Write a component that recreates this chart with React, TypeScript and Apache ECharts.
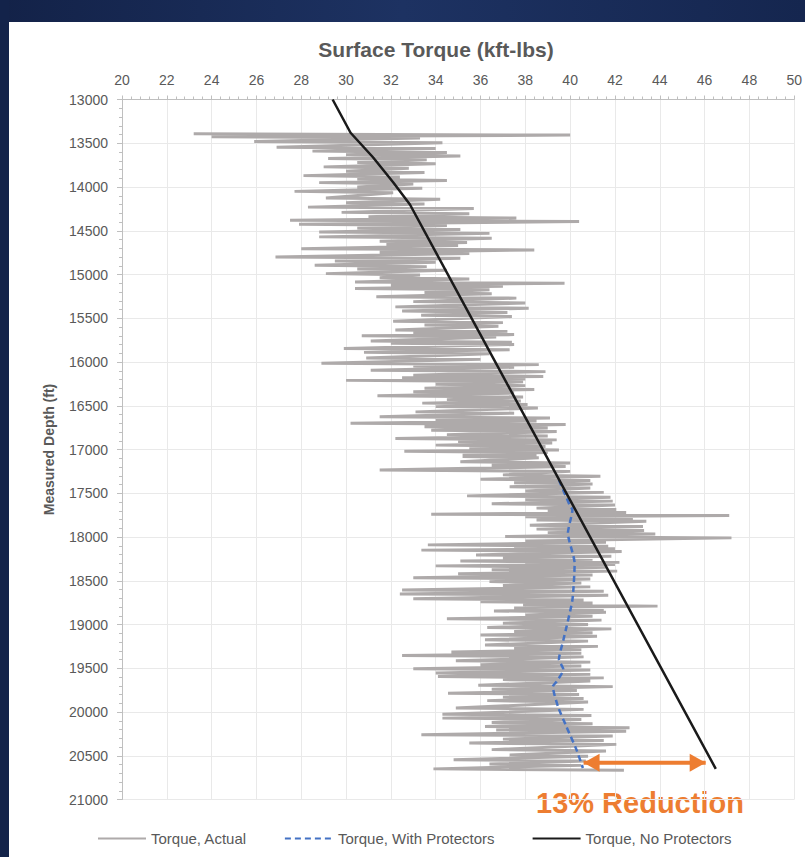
import React, { useEffect, useRef } from "react";
import * as echarts from "echarts";

// ---- Data ----
const xTicks = [20, 22, 24, 26, 28, 30, 32, 34, 36, 38, 40, 42, 44, 46, 48, 50];
const yTicks = [13000, 13500, 14000, 14500, 15000, 15500, 16000, 16500, 17000, 17500, 18000, 18500, 19000, 19500, 20000, 20500, 21000];

// Torque, Actual: each excursion read as depth with its left and right extremes
const actualDepth = [
  13392, 13425, 13480, 13545, 13590, 13630, 13675, 13720, 13770, 13820, 13870, 13910, 13950, 14000, 14050, 14125,
  14180, 14230, 14290, 14340, 14380, 14425, 14470, 14515, 14570, 14620, 14655, 14705, 14745, 14800, 14845, 14895,
  14937, 14990, 15037, 15085, 15120, 15160, 15205, 15255, 15310, 15370, 15418, 15465, 15535, 15577, 15635, 15672,
  15700, 15760, 15785, 15845, 15890, 15955, 16015, 16045, 16095, 16150, 16180, 16210, 16255, 16300, 16340, 16385,
  16430, 16470, 16510, 16570, 16625, 16660, 16700, 16740, 16780, 16830, 16875, 16910, 16950, 16990, 17020, 17050,
  17080, 17140, 17180, 17235, 17290, 17340, 17380, 17425, 17475, 17530, 17575, 17620, 17670, 17705, 17740, 17770,
  17805, 17865, 17910, 17950, 17995, 18045, 18090, 18120, 18150, 18205, 18240, 18275, 18300, 18330, 18375, 18420,
  18465, 18510, 18555, 18605, 18650, 18705, 18740, 18775, 18810, 18845, 18890, 18935, 18985, 19035, 19080, 19120,
  19175, 19235, 19275, 19315, 19355, 19415, 19460, 19505, 19555, 19595, 19630, 19695, 19740, 19785, 19830, 19870,
  19955, 20025, 20070, 20120, 20165, 20205, 20260, 20310, 20355, 20430, 20490, 20545, 20595, 20650,
];
const actualLeft = [
  23.2, 24.0, 25.9, 26.9, 28.5, 30.0, 29.2, 30.5, 29.0, 30.0, 28.1, 30.5, 28.8, 30.5, 27.7, 29.1,
  30.0, 28.3, 29.8, 31.0, 27.5, 27.9, 30.5, 28.8, 28.8, 31.5, 31.8, 28.0, 31.5, 26.85, 29.5, 28.6,
  30.5, 29.1, 31.5, 30.4, 32.0, 30.4, 33.5, 31.35, 33.0, 32.2, 32.5, 33.35, 32.1, 33.5, 32.2, 33.0,
  30.7, 31.1, 32.0, 29.9, 30.8, 30.9, 28.9, 33.0, 31.1, 33.0, 32.5, 30.0, 34.0, 33.5, 33.0, 31.4,
  34.5, 33.4, 34.0, 33.1, 31.5, 34.0, 30.2, 33.5, 33.8, 34.5, 32.2, 35.0, 34.0, 35.5, 32.6, 35.2,
  35.2, 35.1, 36.5, 31.5, 37.0, 36.0, 37.5, 37.3, 38.0, 35.4, 38.0, 36.5, 38.5, 39.0, 33.8, 38.0,
  38.5, 38.2, 38.5, 39.0, 37.1, 38.0, 33.65, 37.5, 33.36, 35.8, 37.0, 35.1, 38.0, 34.0, 36.5, 35.0,
  33.0, 36.4, 37.0, 32.5, 32.4, 33.0, 36.0, 37.9, 37.5, 36.6, 38.0, 34.5, 37.0, 36.3, 37.5, 36.0,
  36.2, 36.2, 37.5, 34.7, 32.5, 34.9, 36.0, 33.0, 34.0, 34.1, 37.0, 35.9, 36.5, 34.55, 37.0, 36.3,
  34.9, 34.3, 34.3, 36.5, 36.2, 36.7, 33.36, 37.0, 35.5, 36.5, 37.3, 34.8, 36.4, 33.9,
];
const actualRight = [
  40.0, 33.3, 34.3, 34.0, 34.5, 35.1, 33.6, 34.0, 32.8, 33.5, 32.4, 34.5, 33.0, 33.4, 32.1, 34.2,
  33.5, 35.7, 35.5, 37.6, 40.4, 34.5, 35.1, 36.4, 36.5, 35.4, 35.0, 38.4, 35.5, 35.1, 34.0, 33.6,
  34.5, 33.3, 35.5, 39.75, 37.0, 36.4, 36.5, 37.6, 38.0, 38.15, 37.2, 37.4, 37.0, 36.8, 37.2, 37.5,
  36.7, 37.4, 37.5, 37.3, 36.4, 36.0, 38.6, 37.5, 38.9, 38.8, 38.0, 37.9, 38.0, 38.4, 37.5, 37.9,
  37.8, 38.1, 38.56, 37.5, 39.1, 38.5, 39.8, 39.0, 39.4, 39.0, 39.4, 39.2, 38.9, 39.5, 39.0, 38.5,
  38.6, 40.0, 39.8, 40.0, 41.35, 40.9, 41.0, 40.9, 41.5, 41.8, 41.9, 42.0, 42.06, 42.5, 47.1, 42.8,
  43.4, 43.25, 43.3, 43.8, 47.2, 41.6, 41.7, 42.0, 42.3, 41.84, 41.0, 42.2, 42.0, 41.6, 42.1, 41.0,
  40.9, 40.5, 40.9, 41.5, 41.7, 40.6, 41.0, 43.9, 41.5, 41.6, 41.0, 41.4, 40.8, 41.84, 41.0, 41.2,
  40.8, 41.24, 40.5, 40.5, 40.6, 40.9, 40.5, 40.9, 40.9, 41.5, 40.9, 41.9, 40.3, 40.4, 40.6, 40.8,
  40.6, 40.95, 40.5, 41.0, 42.65, 42.5, 41.9, 41.5, 42.06, 41.6, 40.8, 40.7, 40.5, 42.4,
];

// Torque, With Protectors
const withDepth = [17350, 17635, 17690, 17955, 18300, 18720, 19175, 19400, 19515, 19650, 19710, 19940, 20165, 20430, 20640];
const withTorque = [39.5, 39.98, 40.1, 39.9, 40.2, 40.1, 39.7, 39.5, 39.7, 39.4, 39.23, 39.46, 39.83, 40.28, 40.57];

// Torque, No Protectors
const noDepth = [13000, 13380, 13660, 13945, 14200, 20650];
const noTorque = [29.4, 30.2, 31.2, 32.1, 32.85, 46.5];

// Reduction arrow
const arrowDepth = 20580;
const arrowFrom = 40.6;
const arrowTo = 46.05;
const reductionText = "13% Reduction";

const FONT = '"Liberation Sans", Arial, sans-serif';
const TXT = "#595959";
const ORANGE = "#ed7d31";

export default function App() {
  const ref = useRef<HTMLDivElement>(null);

  useEffect(() => {
    document.body.style.margin = "0";
    if (!ref.current) return;
    const chart = echarts.init(ref.current, undefined, { renderer: "svg" });

    const actualData: number[][] = [];
    actualDepth.forEach((d, i) => {
      actualData.push([actualLeft[i], d]);
      actualData.push([actualRight[i], d + 15]);
    });
    const withData = withDepth.map((d, i) => [withTorque[i], d]);
    const noData = noDepth.map((d, i) => [noTorque[i], d]);

    chart.setOption({
      animation: false,
      backgroundColor: "#ffffff",
      textStyle: { fontFamily: FONT },
      title: {
        text: "Surface Torque (kft-lbs)",
        left: 431,
        top: 34,
        textAlign: "center",
        textStyle: { fontFamily: FONT, fontSize: 21, fontWeight: "bold", color: TXT },
      },
      graphic: [
        {
          type: "rect",
          shape: { x: 0, y: 0, width: 805, height: 22 },
          style: {
            fill: new echarts.graphic.LinearGradient(0, 0, 1, 0, [
              { offset: 0, color: "#132248" },
              { offset: 0.5, color: "#1d3262" },
              { offset: 1, color: "#15264f" },
            ]),
          },
          silent: true,
        },
        {
          type: "rect",
          shape: { x: 0, y: 0, width: 9, height: 857 },
          style: { fill: "#13234a" },
          silent: true,
        },
        {
          type: "text",
          x: 536,
          y: 803,
          style: {
            text: reductionText,
            fill: ORANGE,
            font: `bold 29px ${FONT}`,
            textAlign: "left",
            textVerticalAlign: "middle",
          },
          silent: true,
        },
      ],
      legend: {
        left: 97,
        top: 831,
        padding: 0,
        itemWidth: 48,
        itemHeight: 14,
        itemGap: 37,
        itemStyle: { opacity: 0 },
        textStyle: { fontFamily: FONT, fontSize: 15, color: TXT },
        data: ["Torque, Actual", "Torque, With Protectors", "Torque, No Protectors"],
      },
      grid: { left: 122, right: 10.5, top: 99.5, bottom: 57.5 },
      xAxis: {
        type: "value",
        position: "top",
        min: xTicks[0],
        max: xTicks[xTicks.length - 1],
        interval: 2,
        axisLine: { show: true, lineStyle: { color: "#bfbfbf", width: 1 } },
        axisTick: { show: true, length: 4, lineStyle: { color: "#bfbfbf" } },
        minorTick: { show: true, splitNumber: 5, length: 3, lineStyle: { color: "#bfbfbf" } },
        axisLabel: { fontFamily: FONT, fontSize: 14, color: TXT, margin: 13 },
        splitLine: { show: true, lineStyle: { color: "#e9e9e9", width: 1 } },
      },
      yAxis: {
        type: "value",
        inverse: true,
        min: yTicks[0],
        max: yTicks[yTicks.length - 1],
        interval: 500,
        name: "Measured Depth (ft)",
        nameLocation: "middle",
        nameGap: 66,
        nameTextStyle: { fontFamily: FONT, fontSize: 14, fontWeight: "bold", color: TXT },
        axisLine: { show: true, lineStyle: { color: "#bfbfbf", width: 1 } },
        axisTick: { show: true, length: 5, lineStyle: { color: "#bfbfbf" } },
        minorTick: { show: true, splitNumber: 5, length: 3, lineStyle: { color: "#bfbfbf" } },
        axisLabel: {
          fontFamily: FONT,
          fontSize: 14,
          color: TXT,
          margin: 14,
          formatter: (v: number) => String(v),
        },
        splitLine: { show: true, lineStyle: { color: "#e9e9e9", width: 1 } },
      },
      series: [
        {
          name: "Torque, Actual",
          type: "line",
          data: actualData,
          symbol: "none",
          showSymbol: false,
          lineStyle: { color: "#aeaaaa", width: 3 },
          itemStyle: { color: "#aeaaaa" },
          z: 2,
        },
        {
          name: "Torque, With Protectors",
          type: "line",
          data: withData,
          symbol: "none",
          showSymbol: false,
          smooth: 0.2,
          lineStyle: { color: "#4472c4", width: 2.5, type: [6, 4] },
          itemStyle: { color: "#4472c4" },
          z: 3,
        },
        {
          name: "Torque, No Protectors",
          type: "line",
          data: noData,
          symbol: "none",
          showSymbol: false,
          lineStyle: { color: "#1a1a1a", width: 2.5 },
          itemStyle: { color: "#1a1a1a" },
          z: 4,
        },
        {
          name: "Reduction",
          type: "line",
          data: [
            { value: [arrowFrom, arrowDepth], symbolRotate: 90, symbolOffset: [8, 0] },
            { value: [arrowTo, arrowDepth], symbolRotate: -90, symbolOffset: [-8, 0] },
          ],
          symbol: "triangle",
          symbolSize: [18, 16],
          showSymbol: true,
          silent: true,
          lineStyle: { color: ORANGE, width: 4 },
          itemStyle: { color: ORANGE, opacity: 1 },
          z: 5,
        },
      ],
    });

    return () => chart.dispose();
  }, []);

  return (
    <div
      ref={ref}
      style={{ width: 805, height: 857, position: "absolute", left: 0, top: 0 }}
    />
  );
}
